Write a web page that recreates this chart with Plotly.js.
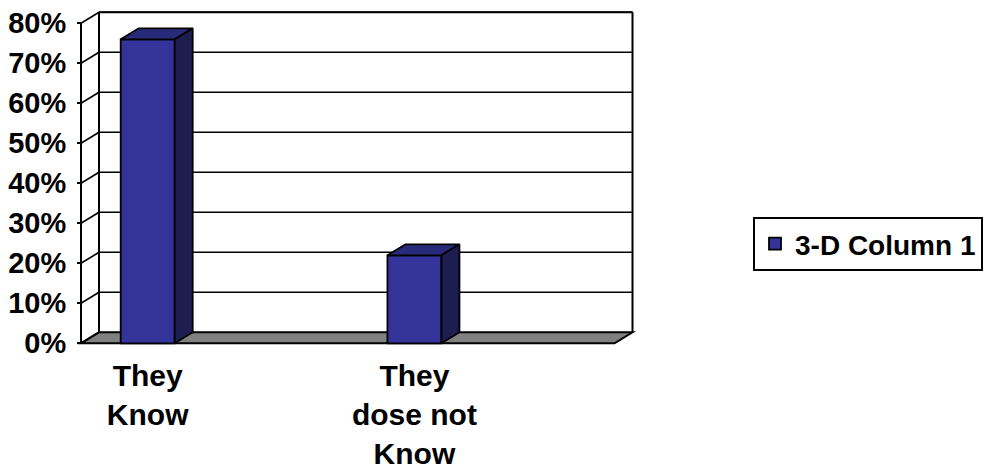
<!DOCTYPE html>
<html><head><meta charset="utf-8">
<script src="https://cdn.plot.ly/plotly-3.0.1.min.js"></script>
<style>html,body{margin:0;padding:0;background:#fff}#chart{width:987px;height:476px}</style>
</head><body><div id="chart"></div>
<script>
// ---- data ----
const categories = ["They<br>Know", "", "They<br>dose not<br>Know", ""];
const values = [76, null, 22, null];
const seriesName = "3-D Column 1";
const yTickValues = [0, 10, 20, 30, 40, 50, 60, 70, 80];
const yTickLabels = ["0%", "10%", "20%", "30%", "40%", "50%", "60%", "70%", "80%"];

// ---- layout geometry (pixels) ----
const W = 987, H = 476;
const frontLeftPx = 81, frontRightPx = 614.5, frontBottomPx = 343.3, frontTopPx = 23.3;
const depthPxX = 18, depthPxY = 11;
const nCat = categories.length;
const yMax = yTickValues[yTickValues.length - 1];
const pxPerX = (frontRightPx - frontLeftPx) / nCat;
const pxPerY = (frontBottomPx - frontTopPx) / yMax;
const dx = depthPxX / pxPerX, dy = depthPxY / pxPerY;
const x0 = -0.5, x1 = nCat - 0.5;
const xr = [x0 - 0.1, x1 + dx + 0.1];
const yr = [-1.5, yMax + dy + 1.2];
const leftPx = frontLeftPx + (xr[0] - x0) * pxPerX;
const rightPx = frontLeftPx + (xr[1] - x0) * pxPerX;
const bottomPx = frontBottomPx + (0 - yr[0]) * pxPerY;
const topPx = frontBottomPx - yr[1] * pxPerY;
const barWidth = 0.405;

const idx = categories.map((c, i) => i);
const barX = idx.filter(i => values[i] !== null);
const barY = barX.map(i => values[i]);

const frontColor = "#333399", topColor = "#2a2a7c", sideColor = "#1d1d50";

// top & side faces computed from values
const topX = [], topY = [], sideX = [], sideY = [];
barX.forEach((x, k) => {
  const v = barY[k], l = x - barWidth / 2, r = x + barWidth / 2;
  topX.push(l, l + dx, r + dx, r, l, null);
  topY.push(v, v + dy, v + dy, v, v, null);
  sideX.push(r, r + dx, r + dx, r, r, null);
  sideY.push(0, dy, v + dy, v, 0, null);
});

const black = "#000000";
const shapes = [];
// back wall fill
shapes.push({type: "rect", layer: "below", xref: "x", yref: "y", x0: x0 + dx, x1: x1 + dx, y0: dy, y1: yMax + dy,
  fillcolor: "#ffffff", line: {width: 0}});
// back wall gridlines
yTickValues.forEach(v => {
  if (v === 0) return;
  shapes.push({type: "line", layer: "below", xref: "x", yref: "y", x0: x0 + dx, x1: x1 + dx, y0: v + dy, y1: v + dy,
    line: {color: black, width: 1.6}});
});
// back wall edges
shapes.push({type: "line", layer: "below", xref: "x", yref: "y", x0: x0 + dx, x1: x0 + dx, y0: dy, y1: yMax + dy, line: {color: black, width: 2}});
shapes.push({type: "line", layer: "below", xref: "x", yref: "y", x0: x1 + dx, x1: x1 + dx, y0: dy, y1: yMax + dy, line: {color: black, width: 2}});
shapes.push({type: "line", layer: "below", xref: "x", yref: "y", x0: x0 + dx, x1: x1 + dx, y0: yMax + dy, y1: yMax + dy, line: {color: black, width: 2}});
// side wall diagonals
yTickValues.forEach(v => {
  shapes.push({type: "line", layer: "below", xref: "x", yref: "y", x0: x0, x1: x0 + dx, y0: v, y1: v + dy,
    line: {color: black, width: 1.6}});
});
// floor
shapes.push({type: "path", layer: "below", xref: "x", yref: "y",
  path: `M${x0},0 L${x1},0 L${x1 + dx},${dy} L${x0 + dx},${dy} Z`,
  fillcolor: "#808080", line: {color: black, width: 2}});
// front value axis line
shapes.push({type: "line", layer: "below", xref: "x", yref: "y", x0: x0, x1: x0, y0: 0, y1: yMax, line: {color: black, width: 2}});

const font = {family: "Liberation Sans, Arial, sans-serif", size: 28, color: "#000", weight: 700};
const yFont = Object.assign({}, font, {size: 29});
const xFont = Object.assign({}, font, {size: 30});

const traces = [
  {type: "bar", x: barX, y: barY, width: barWidth, name: seriesName,
   marker: {color: frontColor, line: {color: black, width: 1.8}}, showlegend: true, hoverinfo: "skip"},
  {type: "scatter", mode: "lines", x: topX, y: topY, fill: "toself", fillcolor: topColor,
   line: {color: black, width: 1.8}, showlegend: false, hoverinfo: "skip"},
  {type: "scatter", mode: "lines", x: sideX, y: sideY, fill: "toself", fillcolor: sideColor,
   line: {color: black, width: 1.8}, showlegend: false, hoverinfo: "skip"}
];

const layout = {
  width: W, height: H,
  margin: {l: 0, r: 0, t: 0, b: 0},
  paper_bgcolor: "#ffffff", plot_bgcolor: "rgba(0,0,0,0)",
  font: font,
  hovermode: false,
  xaxis: {
    domain: [leftPx / W, rightPx / W], range: xr, anchor: "free", position: (H - frontBottomPx) / H,
    tickmode: "array", tickvals: idx, ticktext: categories,
    ticks: "", showgrid: false, zeroline: false, showline: false,
    tickfont: xFont, ticklabelstandoff: 12
  },
  xaxis2: {
    overlaying: "x", domain: [leftPx / W, rightPx / W], range: xr, anchor: "free", position: (H - frontBottomPx) / H,
    tickmode: "array", tickvals: idx.map(i => i - 0.5), showticklabels: false,
    ticks: "outside", ticklen: 5, tickwidth: 2, tickcolor: black,
    showgrid: false, zeroline: false, showline: false
  },
  yaxis: {
    domain: [(H - bottomPx) / H, (H - topPx) / H], range: yr, anchor: "free", position: frontLeftPx / W,
    tickmode: "array", tickvals: yTickValues, ticktext: yTickLabels,
    ticks: "outside", ticklen: 4, tickwidth: 2, tickcolor: black,
    showgrid: false, zeroline: false, showline: false,
    tickfont: yFont, ticklabelstandoff: 5
  },
  legend: {
    x: 753 / W, y: 1 - 217 / H, xanchor: "left", yanchor: "top",
    bordercolor: black, borderwidth: 2, bgcolor: "#ffffff", font: font
  },
  shapes: shapes
};

Plotly.newPlot("chart", traces, layout, {displayModeBar: false, staticPlot: true});
</script>
</body></html>
